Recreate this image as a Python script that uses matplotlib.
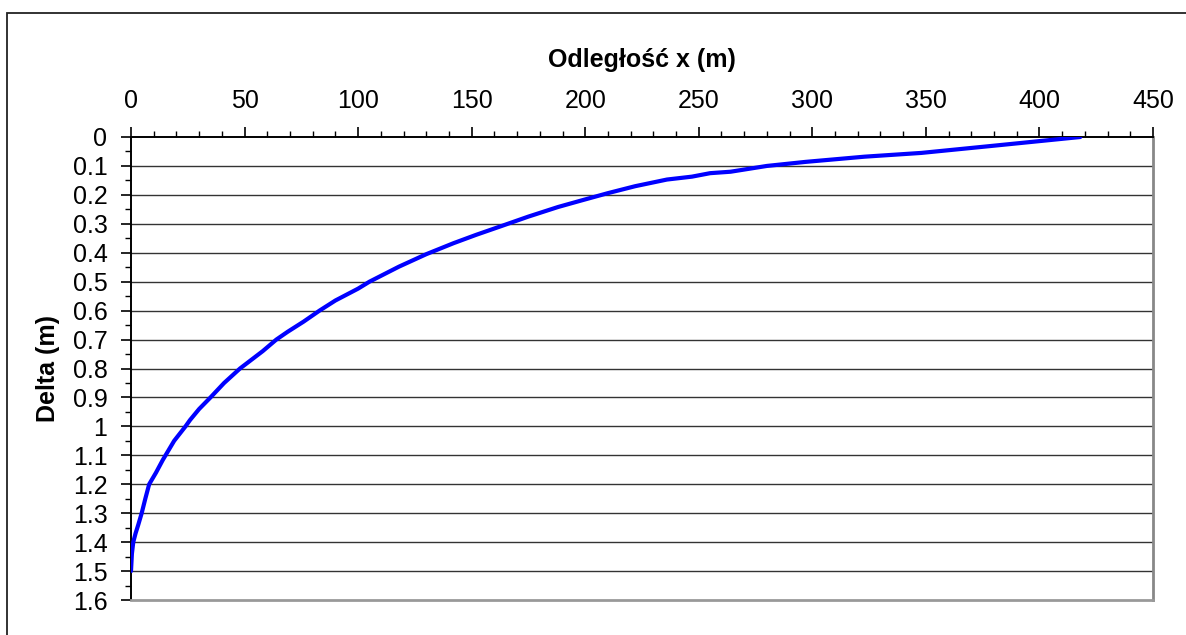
import matplotlib
matplotlib.use('Agg')
import matplotlib.pyplot as plt
from matplotlib.patches import Rectangle
from matplotlib.ticker import MultipleLocator
import numpy as np

## data
##---------------------------

odleglosc_x = [418, 380, 348, 323, 297, 280, 264, 255, 247, 236, 222, 210, 198,
               188, 175, 163, 152, 142, 130, 118, 105, 100, 90, 83, 76, 69, 64,
               58, 52, 48, 41, 35, 30, 26, 24, 19, 14, 11, 8, 6.3, 4.7, 3.2,
               2.0, 1.0, 0.4, 0]
delta = [0, 0.03, 0.055, 0.068, 0.086, 0.10, 0.12, 0.125, 0.137, 0.147, 0.17,
         0.194, 0.22, 0.242, 0.275, 0.308, 0.338, 0.367, 0.405, 0.448, 0.50,
         0.524, 0.565, 0.60, 0.638, 0.673, 0.70, 0.74, 0.776, 0.80, 0.85, 0.9,
         0.94, 0.978, 1.0, 1.05, 1.116, 1.16, 1.2, 1.25, 1.3, 1.34, 1.37,
         1.4, 1.44, 1.5]

x_ticks = np.arange(0, 451, 50)
y_ticks = np.round(np.arange(0, 1.61, 0.1), 1)
y_ticklabels = [f'{v:g}' for v in y_ticks]

plt.rcParams['font.family'] = ['Liberation Sans', 'DejaVu Sans']

W, H = 1186, 635
fig = plt.figure(figsize=(W / 100, H / 100), dpi=100)

# outer chart border (left + top visible, rest runs off the image)
fig.patches.append(Rectangle((7 / W, -0.2), 1.5, 1 - 13 / H + 0.2,
                             transform=fig.transFigure, fill=False,
                             edgecolor='#222222', linewidth=1.3))

ax = fig.add_axes([131 / W, 1 - 600 / H, (1153 - 131) / W, (600 - 137) / H])

for v in y_ticks[1:-1]:
    ax.axhline(v, color='#333333', linewidth=1.0, zorder=1)

ax.plot(odleglosc_x, delta, color='#0000ff', linewidth=3, zorder=3,
        solid_capstyle='round', solid_joinstyle='round')

ax.set_xlim(0, 450)
ax.set_ylim(1.6, 0)

ax.xaxis.tick_top()
ax.xaxis.set_label_position('top')
ax.set_xticks(x_ticks)
ax.xaxis.set_minor_locator(MultipleLocator(10))
ax.set_yticks(y_ticks)
ax.set_yticklabels(y_ticklabels)
ax.yaxis.set_minor_locator(MultipleLocator(0.05))

ax.tick_params(axis='x', which='major', direction='out', length=7, width=1.2,
               labelsize=18, pad=10, colors='black')
ax.tick_params(axis='x', which='minor', direction='out', length=4, width=1.0)
ax.tick_params(axis='y', which='major', direction='out', length=7, width=1.2,
               labelsize=18, pad=10)
ax.tick_params(axis='y', which='minor', direction='out', length=4, width=1.0)

ax.set_xlabel('Odległość x (m)', fontsize=18, fontweight='bold', labelpad=16)
ax.set_ylabel('Delta (m)', fontsize=18, fontweight='bold', labelpad=9)

ax.spines['left'].set_color('black')
ax.spines['left'].set_linewidth(1.4)
ax.spines['top'].set_color('black')
ax.spines['top'].set_linewidth(1.4)
ax.spines['right'].set_color('#888888')
ax.spines['right'].set_linewidth(2)
ax.spines['bottom'].set_color('#999999')
ax.spines['bottom'].set_linewidth(2)

fig.savefig('out.png', dpi=100)
